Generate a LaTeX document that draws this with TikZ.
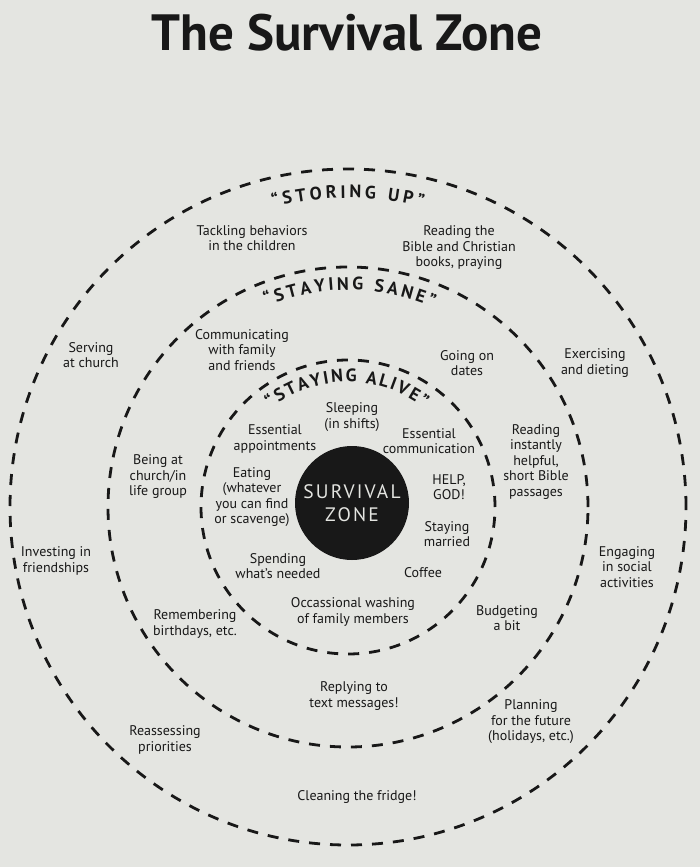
\documentclass[tikz,border=0pt]{standalone}
\usepackage{fontspec}
\setmainfont{PT Sans}
\usetikzlibrary{decorations.text}
\definecolor{paper}{RGB}{228,229,225}
\definecolor{ink}{RGB}{24,24,24}
\newcommand{\entryfont}{\fontsize{14}{15.5}\selectfont}
\newcommand{\ringfont}{\fontsize{18}{18}\selectfont\bfseries}
\newcommand{\titlefont}{\fontsize{51}{51}\selectfont\bfseries}
\newcommand{\zonefont}{\fontsize{19.5}{23}\selectfont\addfontfeature{LetterSpace=11}}

\begin{document}
\begin{tikzpicture}[x=1pt,y=1pt,
    ring/.style={draw=ink, line width=2.8pt, dash pattern=on 11pt off 10pt},
    entry/.style={align=center, font=\entryfont, text=ink, inner sep=0pt},
    ringlabel/.style={decorate, decoration={text along path, text align={fit to path}, text color=ink, text={|\ringfont|#1}}}
  ]
  \fill[paper] (0,0) rectangle (700,-867);
  \useasboundingbox (0,0) rectangle (700,-867);
  \coordinate (c) at (348,-507);

  \node[font=\titlefont, text=ink, anchor=base] (title) at (347,-51) {The Survival Zone};

  \draw[ring] (c) circle[radius=338];
  \draw[ring] (c) circle[radius=240];
  \draw[ring] (c) circle[radius=147];

  \path[ringlabel={“STORING UP”}] ([shift={(104:309)}]c) arc[start angle=104, end angle=76, radius=309];
  \path[ringlabel={“STAYING SANE”}] ([shift={(112:217)}]c) arc[start angle=112, end angle=67, radius=217];
  \path[ringlabel={“STAYING ALIVE”}] ([shift={(128:125)}]c) arc[start angle=128, end angle=53, radius=125];

  \node[circle, fill=ink, minimum size=114pt, inner sep=0pt, text=paper, font=\zonefont, align=center] (zone) at (352,-503) {SURVIVAL\\ZONE};

  \node[entry] (tackling) at (252,-238) {Tackling behaviors\\in the children};
  \node[entry] (bible) at (459,-248) {Reading the\\Bible and Christian\\books, praying};
  \node[entry] (serving) at (91,-355) {Serving\\at church};
  \node[entry] (exercising) at (595,-363) {Exercising\\and dieting};
  \node[entry] (investing) at (56,-561) {Investing in\\friendships};
  \node[entry] (engaging) at (627,-567) {Engaging\\in social\\activities};
  \node[entry] (reassessing) at (165,-740) {Reassessing\\priorities};
  \node[entry] (planning) at (531,-722) {Planning\\for the future\\(holidays, etc.)};
  \node[entry] (fridge) at (357,-797) {Cleaning the fridge!};

  \node[entry] (communicating) at (242,-350) {Communicating\\with family\\and friends};
  \node[entry] (dates) at (467,-363) {Going on\\dates};
  \node[entry] (church) at (158,-477) {Being at\\church/in\\life group};
  \node[entry] (passages) at (536,-462) {Reading\\instantly\\helpful,\\short Bible\\passages};
  \node[entry] (birthdays) at (195,-624) {Remembering\\birthdays, etc.};
  \node[entry] (budgeting) at (507,-618) {Budgeting\\a bit};
  \node[entry] (texts) at (354,-696) {Replying to\\text messages!};

  \node[entry] (sleeping) at (352,-417) {Sleeping\\(in shifts)};
  \node[entry] (appointments) at (275,-439) {Essential\\appointments};
  \node[entry] (communication) at (429,-441) {Essential\\communication};
  \node[entry] (eating) at (252,-497) {Eating\\(whatever\\you can find\\or scavenge)};
  \node[entry] (help) at (449,-487) {HELP,\\GOD!};
  \node[entry] (married) at (447,-534) {Staying\\married};
  \node[entry] (spending) at (278,-566) {Spending\\what's needed};
  \node[entry] (coffee) at (423,-573) {Coffee};
  \node[entry] (washing) at (353,-612) {Occassional washing\\of family members};
\end{tikzpicture}
\end{document}
